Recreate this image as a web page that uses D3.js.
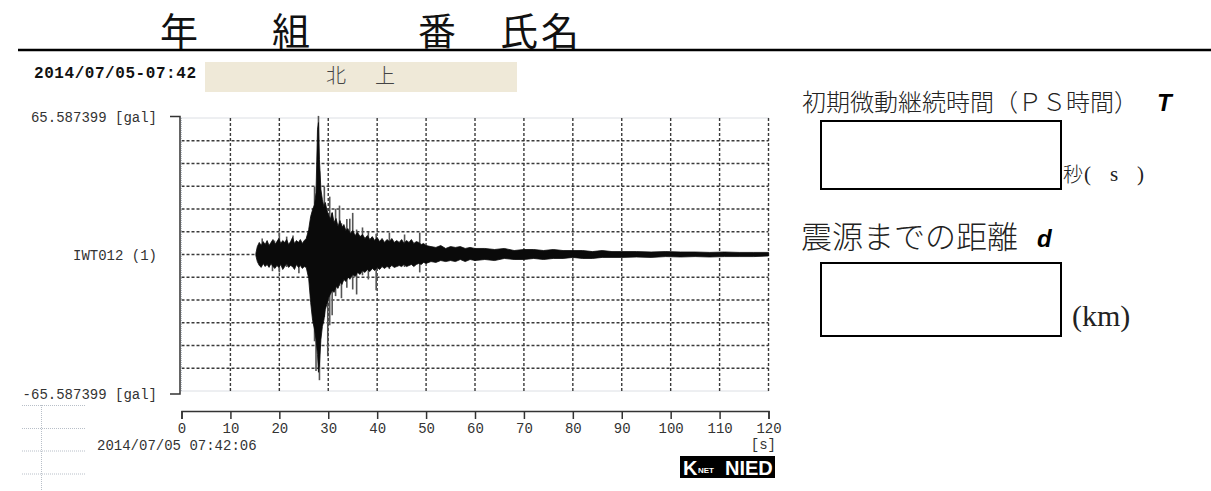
<!DOCTYPE html>
<html>
  <head>
    <title>K-NET waveform sheet</title>
    <meta charset="utf-8">
    <style type="text/css">
      body {
        margin: 0;
        background: #fff;
      }
      svg {
        display: block;
      }
      .mono {
        font-family: "Liberation Mono", "DejaVu Sans Mono", monospace;
        font-size: 14px;
        fill: #333;
      }
      .axis text {
        font-family: "Liberation Mono", "DejaVu Sans Mono", monospace;
        font-size: 14px;
        fill: #333;
      }
      .axis path, .axis line {
        stroke: #333;
        stroke-width: 1.5px;
      }
      .grid line {
        stroke: #3a3a3a;
        stroke-width: 1.4px;
        stroke-dasharray: 3 2;
      }
      .grid line.edge {
        stroke: #b8bfc8;
        stroke-width: 1px;
        stroke-dasharray: 1 1;
      }
      .jp {
        font-family: "Noto Sans CJK JP", sans-serif;
        font-weight: 300;
        fill: #222;
      }
      .serif {
        font-family: "Liberation Serif", "DejaVu Serif", serif;
        fill: #222;
      }
      .bi {
        font-family: "Liberation Sans", Arial, sans-serif;
        font-weight: bold;
        font-style: italic;
        font-size: 24px;
        fill: #000;
      }
    </style>
  </head>
  <body>
    <script src="https://cdnjs.cloudflare.com/ajax/libs/d3/7.8.5/d3.min.js"></script>
    <script>
    // waveform envelope (seconds, gal)
    var envTime = [
      15.2, 15.5, 15.9, 16.3, 16.7, 17.1, 17.5, 17.9, 18.3, 18.7, 19.1, 19.5, 19.9, 20.3, 20.7, 21.1, 21.5, 21.9, 22.3, 22.7,
      23.1, 23.5, 23.9, 24.3, 24.7, 25.1, 25.5,
      26.0, 26.4, 26.8, 27.2, 27.5, 27.8, 28.0, 28.2, 28.5, 28.8, 29.1, 29.4, 29.7, 30.0, 30.4, 30.8, 31.2, 31.6, 32.0, 32.4,
      32.8, 33.2, 33.6, 34.0, 34.5, 35.0, 35.5,
      36.0, 36.5, 37.0, 37.5, 38.0, 38.5, 39.0, 39.5, 40.0, 40.5, 41.0, 41.5, 42.0, 42.5, 43.0, 43.5, 44.0, 44.5, 45.0, 45.5,
      46.0, 46.5, 47.0, 47.5, 48.0, 48.5, 49.0, 49.5, 50.0,
      51, 52, 53, 54, 55, 56, 57, 58, 59, 60, 62, 64, 66, 68, 70, 72, 74, 76, 78, 80,
      82, 84, 86, 88, 90, 93, 96, 99, 102, 105, 108, 111, 114, 117, 120];
    var envHigh = [
      0.5, 3.8, 5.8, 4.3, 6.2, 4.8, 6.7, 4.3, 5.8, 7.2, 4.8, 6.2, 7.7, 5.3, 6.7, 5.8, 7.2, 4.8, 6.2, 8.2,
      5.3, 6.7, 5.8, 7.2, 5.3, 6.7, 7.7,
      12, 18.2, 21.6, 24, 29.8, 60, 63.4, 45.6, 31.2, 26.4, 23, 25, 21.6, 19.2, 16.8, 20.2, 15.4, 17.3, 13.4, 16.3,
      13, 14.4, 11.5, 12.5, 10.1, 11.5, 9.1,
      10.6, 8.6, 9.6, 7.7, 9.1, 7.2, 8.6, 6.7, 8.2, 6.2, 7.7, 5.8, 7.2, 6.2, 7.7, 5.8, 6.7, 5.8, 7.2, 5.3,
      6.7, 5.8, 7.2, 5.3, 6.2, 5.8, 4.8, 5.3, 4.3,
      3.8, 3.4, 4.3, 2.9, 3.8, 3.4, 3.8, 2.9, 3.4, 2.9, 2.9, 2.4, 2.9, 1.9, 2.4, 2.4, 1.9, 2.4, 1.9, 1.9,
      1.9, 1.4, 1.9, 1.4, 1.4, 1.4, 1.2, 1.4, 1.2, 1.2, 1.0, 1.2, 1.0, 1.0, 1.0];
    var envLow = [
      -0.5, -3.4, -5.3, -6.2, -4.3, -5.8, -4.8, -6.2, -4.3, -5.8, -6.7, -5.3, -6.2, -4.8, -7.2, -5.8, -4.3, -6.2, -5.3, -5.8,
      -7.2, -4.8, -6.2, -5.3, -6.7, -5.8, -6.2,
      -11.5, -23, -31.7, -36, -40.8, -48, -56.6, -52.8, -40.8, -34.6, -31.7, -26.4, -24, -21.1, -19.2, -17.3, -18.2, -15.4, -16.3, -13.4,
      -14.4, -12, -13, -11, -11.5, -9.6, -10.6,
      -8.6, -9.6, -7.7, -8.6, -7.2, -8.2, -6.7, -7.7, -6.2, -7.2, -5.8, -6.7, -5.8, -6.2, -5.3, -6.2, -5.8, -5.3, -5.8, -4.8,
      -5.8, -5.3, -4.8, -5.8, -4.8, -4.3, -4.8, -3.8, -4.3,
      -3.4, -3.8, -2.9, -3.4, -2.9, -3.4, -2.4, -3.4, -2.4, -2.9, -2.4, -2.9, -1.9, -2.4, -2.4, -1.9, -2.4, -1.9, -1.9, -1.4,
      -1.9, -1.9, -1.4, -1.4, -1.4, -1.2, -1.4, -1.0, -1.2, -1.0, -1.2, -1.0, -1.0, -1.0, -0.7];

    // single swings sticking out of the dense trace
    var spikeTime = [16.5, 18.6, 19.0, 20.0, 21.5, 22.8, 24.0, 26.5, 27.2, 27.5, 28.0, 28.2, 29.2, 29.9, 30.3, 30.8,
                     31.5, 32.3, 32.7, 33.8, 34.4, 35.0, 35.8, 37.0, 38.2, 39.8, 42.5, 45.6, 48.7];
    var spikeHigh = [7.7, 6.0, 6.7, 10.5, 8.6, 9.1, 6.0, 10.0, 32.6, 20.0, 66.6, 40.0, 32.6, 20.0, 27.8, 20.0,
                     22.0, 23.5, 15.0, 17.0, 17.2, 20.0, 12.0, 13.0, 11.0, 10.0, 10.5, 9.6, 10.5];
    var spikeLow  = [-5.0, -8.0, -5.0, -8.6, -6.0, -6.0, -9.0, -21.0, -41.7, -56.0, -30.0, -60.4, -30.0, -48.9, -34.0, -29.2,
                     -20.0, -15.0, -21.0, -16.0, -12.0, -16.8, -19.2, -10.0, -12.0, -17.2, -7.0, -6.0, -8.6];

    var xTicks = [0, 10, 20, 30, 40, 50, 60, 70, 80, 90, 100, 110, 120];
    var yMax = 65.587399;
    var gridRows = 12;

    var width = 1211, height = 491;

    var svg = d3.select("body").append("svg")
        .attr("width", width)
        .attr("height", height);

    // Scales
    var x = d3.scaleLinear()
        .domain([0, 120])
        .range([181.5, 768.5]);

    var y = d3.scaleLinear()
        .domain([-yMax, yMax])
        .range([391, 118]);

    // header
    var title = [["年", 160], ["組", 272], ["番", 418], ["氏名", 500]];
    svg.selectAll("text.title")
        .data(title)
        .enter().append("text")
        .attr("class", "title")
        .attr("x", function(d) { return d[1]; })
        .attr("y", 45)
        .style("font-family", "'Noto Sans CJK JP', sans-serif")
        .style("font-size", "38px")
        .style("letter-spacing", "3px")
        .style("fill", "#111")
        .text(function(d) { return d[0]; });

    svg.append("line")
        .attr("x1", 18).attr("x2", width)
        .attr("y1", 50).attr("y2", 50)
        .style("stroke", "#000")
        .style("stroke-width", 2.5);

    svg.append("text")
        .attr("x", 34).attr("y", 78)
        .attr("textLength", 162)
        .style("font-family", "'Liberation Mono', monospace")
        .style("font-weight", "bold")
        .style("font-size", "16px")
        .style("fill", "#111")
        .text("2014/07/05-07:42");

    svg.append("rect")
        .attr("x", 205).attr("y", 62)
        .attr("width", 312).attr("height", 30)
        .style("fill", "#efe9d8");

    [["北", 326], ["上", 375]].forEach(function(d) {
      svg.append("text")
          .attr("class", "jp")
          .attr("x", d[1]).attr("y", 83)
          .style("font-size", "20px")
          .style("fill", "#444")
          .text(d[0]);
    });

    // grid
    var grid = svg.append("g").attr("class", "grid");
    var rows = d3.range(gridRows + 1).map(function(i) { return -yMax + i * 2 * yMax / gridRows; });

    grid.selectAll("line.h")
        .data(rows)
        .enter().append("line")
        .attr("class", function(d, i) { return (i == 0 || i == gridRows) ? "h edge" : "h"; })
        .attr("x1", x(0)).attr("x2", x(120))
        .attr("y1", function(d) { return y(d); })
        .attr("y2", function(d) { return y(d); });

    grid.selectAll("line.v")
        .data(xTicks)
        .enter().append("line")
        .attr("class", function(d) { return d == 0 ? "v edge" : "v"; })
        .attr("x1", function(d) { return x(d); })
        .attr("x2", function(d) { return x(d); })
        .attr("y1", y(yMax)).attr("y2", y(-yMax));

    // waveform
    var wave = envTime.map(function(t, i) { return {t: t, hi: envHigh[i], lo: envLow[i]}; });

    var area = d3.area()
        .x(function(d) { return x(d.t); })
        .y0(function(d) { return y(d.lo); })
        .y1(function(d) { return y(d.hi); });

    var spikes = spikeTime.map(function(t, i) { return {t: t, hi: spikeHigh[i], lo: spikeLow[i]}; });

    svg.selectAll("line.spike")
        .data(spikes)
        .enter().append("line")
        .attr("class", "spike")
        .attr("x1", function(d) { return x(d.t); })
        .attr("x2", function(d) { return x(d.t); })
        .attr("y1", function(d) { return y(d.hi); })
        .attr("y2", function(d) { return y(d.lo); })
        .style("stroke", "#555")
        .style("stroke-width", 1.6);

    svg.append("path")
        .datum(wave)
        .attr("d", area)
        .style("fill", "#0a0a0a")
        .style("stroke", "#0a0a0a")
        .style("stroke-width", 0.8);

    // y bracket and labels
    svg.append("path")
        .attr("d", "M170," + (y(yMax) - 1.5) + "H180V" + (y(-yMax) + 3) + "H170")
        .style("fill", "none")
        .style("stroke", "#333")
        .style("stroke-width", 1.5);

    var yLabels = [["65.587399 [gal]", y(yMax) + 4], ["IWT012 (1)", y(0) + 5], ["-65.587399 [gal]", y(-yMax) + 8]];
    svg.selectAll("text.ylab")
        .data(yLabels)
        .enter().append("text")
        .attr("class", "ylab mono")
        .attr("x", 157)
        .attr("y", function(d) { return d[1]; })
        .attr("text-anchor", "end")
        .text(function(d) { return d[0]; });

    // time axis
    var xAxis = d3.axisBottom(x)
        .tickValues(xTicks)
        .tickSize(8)
        .tickPadding(4);

    svg.append("g")
        .attr("class", "axis")
        .attr("transform", "translate(0,411)")
        .call(xAxis);

    svg.append("text")
        .attr("class", "mono")
        .attr("x", 97).attr("y", 450)
        .text("2014/07/05 07:42:06");

    svg.append("text")
        .attr("class", "mono")
        .attr("x", 776).attr("y", 449)
        .attr("text-anchor", "end")
        .text("[s]");

    // faint leftovers of the next trace
    var ghost = svg.append("g")
        .style("stroke", "#b8bfc8")
        .style("stroke-width", 1)
        .style("stroke-dasharray", "1 1");
    [405.5, 428.5, 451, 474].forEach(function(gy) {
      ghost.append("line").attr("x1", 22).attr("x2", 86).attr("y1", gy).attr("y2", gy);
    });
    ghost.append("line").attr("x1", 41.5).attr("x2", 41.5).attr("y1", 405).attr("y2", 491);

    // logo
    var logo = svg.append("g").attr("transform", "translate(680,456)");
    logo.append("rect").attr("width", 95).attr("height", 22).style("fill", "#000");
    logo.append("text").attr("x", 3).attr("y", 19)
        .style("font-family", "'Liberation Sans', Arial, sans-serif").style("font-weight", "bold")
        .style("font-size", "20px").style("fill", "#fff").text("K");
    logo.append("text").attr("x", 18).attr("y", 17)
        .style("font-family", "'Liberation Sans', Arial, sans-serif").style("font-weight", "bold")
        .style("font-size", "8px").style("fill", "#fff").text("NET");
    logo.append("text").attr("x", 45).attr("y", 19)
        .style("font-family", "'Liberation Sans', Arial, sans-serif").style("font-weight", "bold")
        .style("font-size", "20px").style("fill", "#fff").text("NIED");

    // answer boxes
    svg.append("text")
        .attr("class", "jp")
        .attr("x", 802).attr("y", 111)
        .style("font-size", "24px")
        .text("初期微動継続時間（ＰＳ時間）");
    svg.append("text")
        .attr("class", "bi")
        .attr("x", 1157).attr("y", 111)
        .text("T");

    svg.append("rect")
        .attr("x", 821).attr("y", 121)
        .attr("width", 240).attr("height", 68)
        .style("fill", "none").style("stroke", "#000").style("stroke-width", 2);

    svg.append("text")
        .attr("class", "jp")
        .attr("x", 1063).attr("y", 182)
        .style("font-size", "20px")
        .text("秒");
    svg.append("text")
        .attr("class", "serif")
        .attr("x", 1084).attr("y", 181)
        .attr("textLength", 60)
        .style("font-size", "21px")
        .text("( s )");

    svg.append("text")
        .attr("class", "jp")
        .attr("x", 801).attr("y", 248)
        .style("font-size", "31px")
        .text("震源までの距離");
    svg.append("text")
        .attr("class", "bi")
        .attr("x", 1037).attr("y", 247)
        .text("d");

    svg.append("rect")
        .attr("x", 821).attr("y", 263)
        .attr("width", 240).attr("height", 73)
        .style("fill", "none").style("stroke", "#000").style("stroke-width", 2);

    svg.append("text")
        .attr("class", "serif")
        .attr("x", 1072).attr("y", 326)
        .style("font-size", "30px")
        .text("(km)");
    </script>
  </body>
</html>
